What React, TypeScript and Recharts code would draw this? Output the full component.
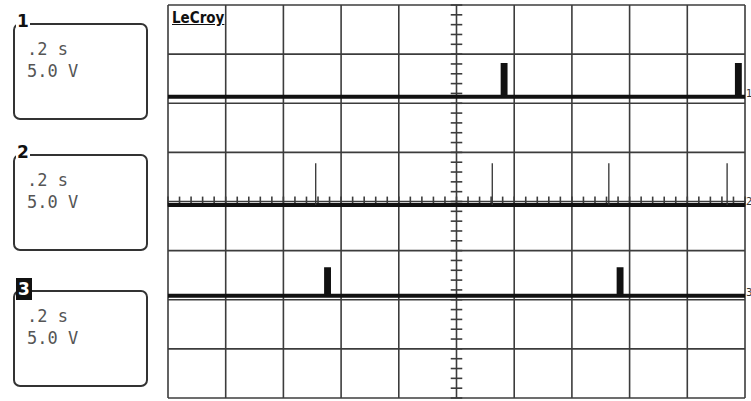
import { LineChart, Line, XAxis, YAxis, ReferenceLine } from "recharts"

// screen divisions
const xDivs = [0, 1, 2, 3, 4, 5, 6, 7, 8, 9, 10]
const yDivs = [0, 1, 2, 3, 4, 5, 6, 7, 8]

// channel 1: two wide pulses
const ch1Base = 6.13
const ch1Top = 6.78
const ch1Pulses = [
  [5.8, 5.85],
  [9.86, 9.91],
]

// channel 2: narrow spikes
const ch2Base = 3.93
const ch2Top = 4.78
const ch2Spikes = [2.56, 5.62, 7.64, 9.69]

// channel 3: two wide pulses
const ch3Base = 2.08
const ch3Top = 2.62
const ch3Pulses = [
  [2.74, 2.79],
  [7.81, 7.86],
]

const channels = [
  { label: "1", time: ".2 s", volts: "5.0 V", top: 23 },
  { label: "2", time: ".2 s", volts: "5.0 V", top: 154 },
  { label: "3", time: ".2 s", volts: "5.0 V", top: 290 },
]

function pulseTrace(base: number, top: number, pulses: number[][]) {
  const pts: { x: number; y: number }[] = [{ x: 0, y: base }]
  pulses.forEach(([a, b]) => {
    pts.push({ x: a, y: base }, { x: a, y: top }, { x: b, y: top }, { x: b, y: base })
  })
  pts.push({ x: 10, y: base })
  return pts
}

function spikeTrace(base: number, top: number, spikes: number[]) {
  const pts: { x: number; y: number | null }[] = []
  spikes.forEach((s) => {
    pts.push({ x: s, y: base }, { x: s, y: top }, { x: s + 0.001, y: null })
  })
  return pts
}

const ch1Data = pulseTrace(ch1Base, ch1Top, ch1Pulses)
const ch2Line = [
  { x: 0, y: ch2Base },
  { x: 10, y: ch2Base },
]
const ch2SpikeData = spikeTrace(ch2Base, ch2Top, ch2Spikes)
const ch3Data = pulseTrace(ch3Base, ch3Top, ch3Pulses)

// minor ticks on the centre cross, 5 per division
const minorY = Array.from({ length: 41 }, (_, i) => i * 0.2)
const minorX = Array.from({ length: 51 }, (_, i) => i * 0.2)

const gridColor = "#3c3c3c"
const traceColor = "#111"

function ChannelBox({ label, time, volts, top }: { label: string; time: string; volts: string; top: number }) {
  const inverse = label === "3"
  return (
    <>
      <div
        style={{
          position: "absolute",
          left: 13,
          top,
          width: 131,
          height: 93,
          border: "2px solid #333",
          borderRadius: 7,
        }}
      />
      <div
        style={{
          position: "absolute",
          left: 16,
          top: top - 12,
          padding: "0 1px",
          background: inverse ? "#111" : "#fff",
          color: inverse ? "#fff" : "#111",
          border: inverse ? "1px solid #111" : "none",
          fontFamily: "DejaVu Sans",
          fontWeight: "bold",
          fontSize: 17,
          lineHeight: "20px",
        }}
      >
        {label}
      </div>
      <div
        style={{
          position: "absolute",
          left: 27,
          top: top + 15,
          fontFamily: "DejaVu Sans Mono",
          fontSize: 17,
          lineHeight: "22px",
          color: "#555",
          whiteSpace: "pre",
        }}
      >
        {time}
        {"\n"}
        {volts}
      </div>
    </>
  )
}

export default function App() {
  return (
    <div style={{ position: "absolute", left: 0, top: 0, width: 751, height: 401, background: "#fff", overflow: "hidden" }}>
      {channels.map((c) => (
        <ChannelBox key={c.label} {...c} />
      ))}
      <LineChart width={751} height={401} data={ch1Data} margin={{ top: 5, right: 6, bottom: 3, left: 168 }}>
        <XAxis type="number" dataKey="x" domain={[0, 10]} hide allowDataOverflow />
        <YAxis type="number" domain={[0, 8]} hide allowDataOverflow />
        {xDivs.map((v) => (
          <ReferenceLine key={`vx-${v}`} x={v} stroke={gridColor} strokeWidth={1.6} />
        ))}
        {yDivs.map((v) => (
          <ReferenceLine key={`hy-${v}`} y={v} stroke={gridColor} strokeWidth={1.6} />
        ))}
        {minorY.map((v) => (
          <ReferenceLine
            key={`my-${v}`}
            segment={[
              { x: 4.9, y: v },
              { x: 5.1, y: v },
            ]}
            stroke={gridColor}
            strokeWidth={1.6}
          />
        ))}
        {minorX.map((v) => (
          <ReferenceLine
            key={`mx-${v}`}
            segment={[
              { x: v, y: 3.9 },
              { x: v, y: 4.1 },
            ]}
            stroke={gridColor}
            strokeWidth={1.6}
          />
        ))}
        <Line data={ch1Data} dataKey="y" type="linear" stroke={traceColor} strokeWidth={4} dot={false} isAnimationActive={false} />
        <Line data={ch2Line} dataKey="y" type="linear" stroke={traceColor} strokeWidth={4} dot={false} isAnimationActive={false} />
        <Line data={ch2SpikeData} dataKey="y" type="linear" stroke="#333" strokeWidth={1.3} dot={false} connectNulls={false} isAnimationActive={false} />
        <Line data={ch3Data} dataKey="y" type="linear" stroke={traceColor} strokeWidth={4} dot={false} isAnimationActive={false} />
      </LineChart>
      <div
        style={{
          position: "absolute",
          left: 172,
          top: 9,
          fontFamily: "DejaVu Sans Condensed",
          fontWeight: "bold",
          fontSize: 15,
          lineHeight: "18px",
          textDecoration: "underline",
          color: "#111",
        }}
      >
        LeCroy
      </div>
      {[
        { label: "1", top: 88 },
        { label: "2", top: 196 },
        { label: "3", top: 287 },
      ].map((m) => (
        <div
          key={m.label}
          style={{ position: "absolute", left: 746, top: m.top, fontFamily: "DejaVu Sans", fontSize: 10, color: "#333" }}
        >
          {m.label}
        </div>
      ))}
    </div>
  )
}
